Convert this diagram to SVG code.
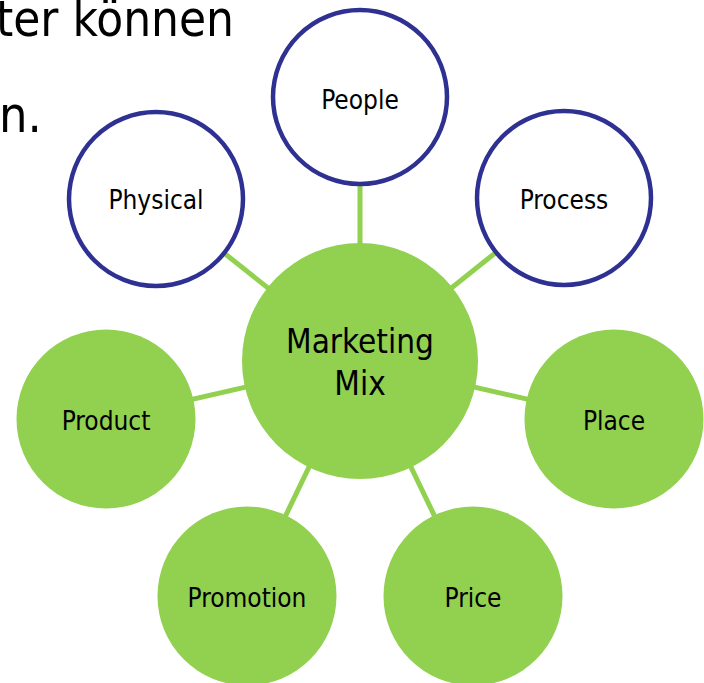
<svg xmlns="http://www.w3.org/2000/svg" width="704" height="683" viewBox="0 0 704 683">
  <style>
    .lbl { font-family: "DejaVu Sans Condensed", "DejaVu Sans", Verdana, sans-serif; font-stretch: condensed; fill: #000; text-anchor: middle; }
    .small { font-size: 26px; }
    .big { font-size: 33px; }
    .slide { font-family: "DejaVu Sans Condensed", "DejaVu Sans", Verdana, sans-serif; font-stretch: condensed; font-size: 50px; fill: #000; }
    .conn { stroke: #92D050; stroke-width: 5; fill: none; }
    .green { fill: #92D050; }
    .outline { fill: #FFFFFF; stroke: #2E3192; stroke-width: 4.5; }
  </style>
  <rect width="704" height="683" fill="#FFFFFF"/>
  <g id="slide-text">
    <text class="slide" x="-4" y="36" textLength="238" lengthAdjust="spacingAndGlyphs">ter können</text>
    <text class="slide" x="-1" y="132">n.</text>
  </g>
  <g id="connectors">
    <line class="conn" x1="360" y1="361" x2="360" y2="97"/>
    <line class="conn" x1="360" y1="361" x2="156" y2="199"/>
    <line class="conn" x1="360" y1="361" x2="564" y2="198"/>
    <line class="conn" x1="360" y1="361" x2="106" y2="419"/>
    <line class="conn" x1="360" y1="361" x2="614" y2="419"/>
    <line class="conn" x1="360" y1="361" x2="247" y2="596"/>
    <line class="conn" x1="360" y1="361" x2="473" y2="596"/>
  </g>
  <g id="people">
    <circle class="outline" cx="360" cy="97" r="87"/>
    <text class="lbl small" x="360" y="109">People</text>
  </g>
  <g id="physical">
    <circle class="outline" cx="156" cy="199" r="87"/>
    <text class="lbl small" x="156" y="209">Physical</text>
  </g>
  <g id="process">
    <circle class="outline" cx="564" cy="198" r="87"/>
    <text class="lbl small" x="564" y="209">Process</text>
  </g>
  <g id="marketing-mix">
    <circle class="green" cx="360" cy="361" r="118"/>
    <text class="lbl big" x="360" y="353">Marketing</text>
    <text class="lbl big" x="360" y="395">Mix</text>
  </g>
  <g id="product">
    <circle class="green" cx="106" cy="419" r="89.5"/>
    <text class="lbl small" x="106" y="430">Product</text>
  </g>
  <g id="place">
    <circle class="green" cx="614" cy="419" r="89.5"/>
    <text class="lbl small" x="614" y="430">Place</text>
  </g>
  <g id="promotion">
    <circle class="green" cx="247" cy="596" r="89.5"/>
    <text class="lbl small" x="247" y="607">Promotion</text>
  </g>
  <g id="price">
    <circle class="green" cx="473" cy="596" r="89.5"/>
    <text class="lbl small" x="473" y="607">Price</text>
  </g>
</svg>
